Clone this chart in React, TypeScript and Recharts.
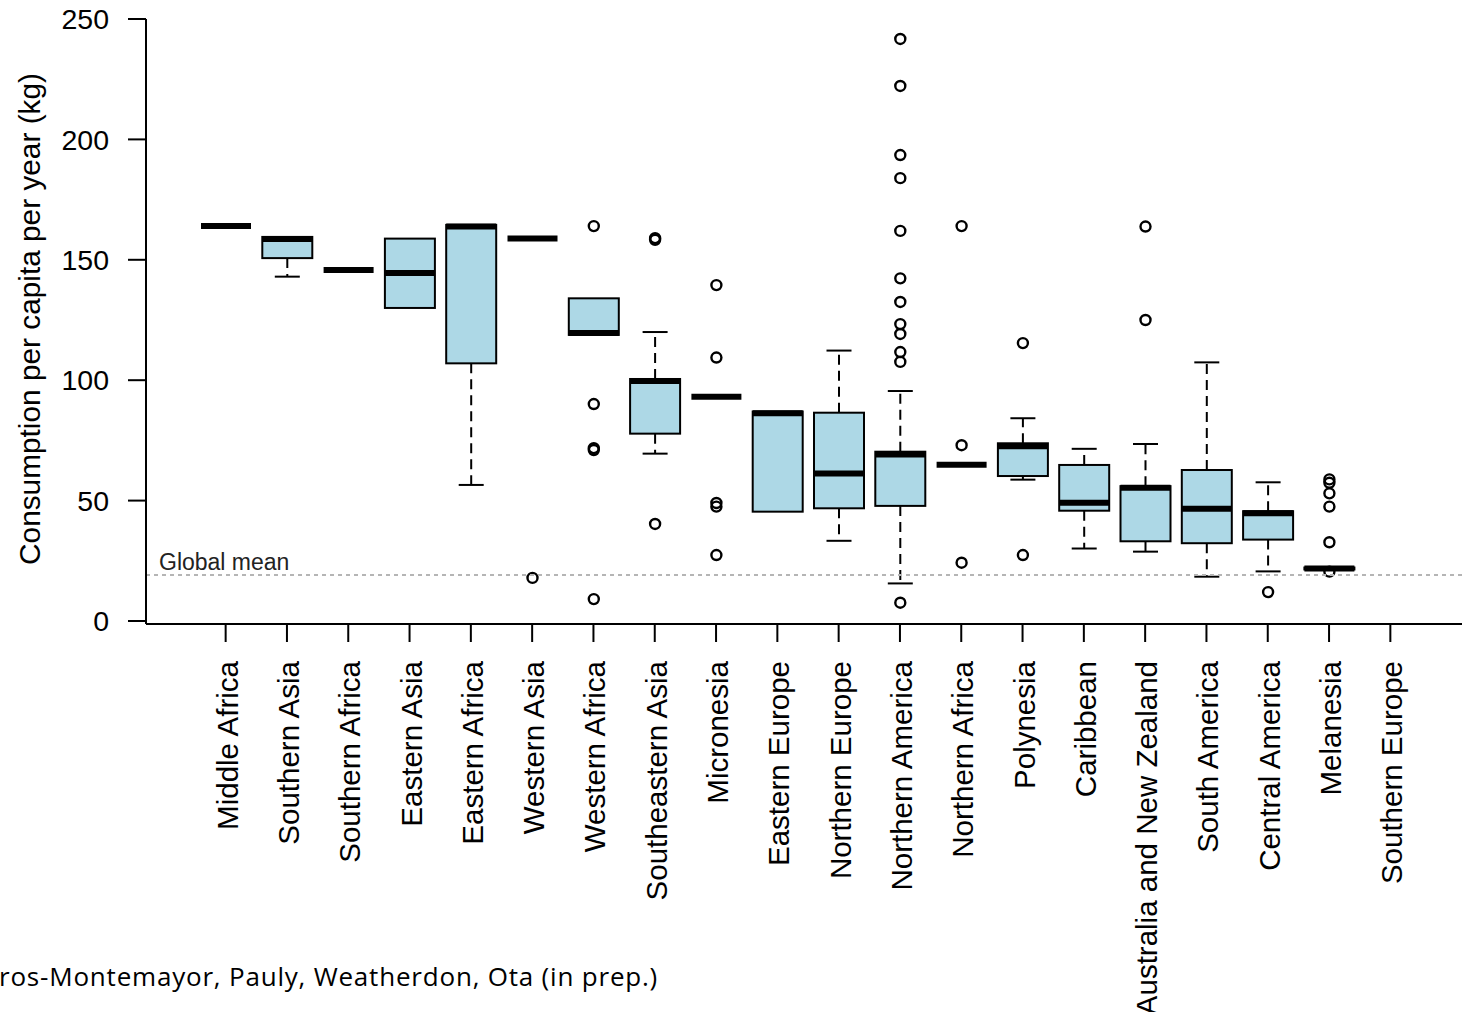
import { ComposedChart, Bar, XAxis, YAxis, ReferenceLine } from 'recharts'

// regions in the order they appear along the x axis
const regions = [
  'Middle Africa',
  'Southern Asia',
  'Southern Africa',
  'Eastern Asia',
  'Eastern Africa',
  'Western Asia',
  'Western Africa',
  'Southeastern Asia',
  'Micronesia',
  'Eastern Europe',
  'Northern Europe',
  'Northern America',
  'Northern Africa',
  'Polynesia',
  'Caribbean',
  'Australia and New Zealand',
  'South America',
  'Central America',
  'Melanesia',
  'Southern Europe',
]

// box statistics (kg per capita per year), null = no data
const whiskerLow = [164, 143, 145.8, 130, 56.5, 158.8, 118.8, 69.5, 93.1, 45.4, 33.3, 15.6, 64.9, 58.7, 30.1, 28.8, 18.4, 20.6, 21.4, null]
const q1 = [164, 150.7, 145.8, 130, 107, 158.8, 118.8, 77.8, 93.1, 45.4, 46.8, 47.8, 64.9, 60.2, 45.8, 33.1, 32.3, 33.8, 21.4, null]
const median = [164, 158.6, 145.8, 144.5, 163.8, 158.8, 119.6, 99.7, 93.1, 86.3, 61.2, 69.1, 64.9, 72.6, 49.1, 55.3, 46.6, 44.7, 21.8, null]
const q3 = [164, 159.5, 145.8, 158.8, 164.5, 158.8, 134, 100.5, 93.1, 87, 86.5, 70.3, 64.9, 73.8, 64.8, 56, 62.7, 45.6, 22.2, null]
const whiskerHigh = [164, 159.5, 145.8, 158.8, 164.5, 158.8, 134, 120, 93.1, 87, 112.3, 95.5, 64.9, 84.2, 71.5, 73.5, 107.4, 57.6, 22.2, null]
const outliers: number[][] = [
  [],
  [],
  [],
  [],
  [],
  [17.9],
  [164, 90.1, 71.8, 71.0, 9.1],
  [159.0, 158.3, 40.3],
  [139.5, 109.4, 49.0, 47.5, 27.4],
  [],
  [],
  [241.7, 222.2, 193.5, 183.9, 162, 142.3, 132.5, 123.3, 119.2, 111.7, 107.6, 7.6],
  [164, 73, 24.2],
  [115.4, 27.4],
  [],
  [163.8, 125],
  [],
  [12],
  [58.8, 57.4, 53, 47.5, 32.7, 20.5],
  [],
]

const yTicks = [0, 50, 100, 150, 200, 250]
const GLOBAL_MEAN = 19.1

const data = regions.map((name, i) => ({
  name,
  wLow: whiskerLow[i],
  q1: q1[i],
  med: median[i],
  q3: q3[i],
  wHigh: whiskerHigh[i],
  out: outliers[i],
  // tallest value in the group, used only to recover the y scale inside the shape
  top: whiskerHigh[i] == null ? null : Math.max(whiskerHigh[i] as number, ...outliers[i]),
}))

const FONT = '"Liberation Sans", Arial, Helvetica, sans-serif'

function BoxShape(props: any) {
  const { x, y, width, height, payload } = props
  if (!payload || payload.med == null || !height) return null
  const base = y + height
  const toY = (v: number) => base - (v * height) / payload.top
  const cx = x + width / 2
  const cap = width / 4
  const { wLow, q1: lo, med, q3: hi, wHigh, out } = payload
  return (
    <g>
      {wHigh > hi && (
        <g stroke="#000" strokeWidth={2}>
          <line x1={cx} x2={cx} y1={toY(hi)} y2={toY(wHigh)} strokeDasharray="10 6" />
          <line x1={cx - cap} x2={cx + cap} y1={toY(wHigh)} y2={toY(wHigh)} />
        </g>
      )}
      {wLow < lo && (
        <g stroke="#000" strokeWidth={2}>
          <line x1={cx} x2={cx} y1={toY(lo)} y2={toY(wLow)} strokeDasharray="10 6" />
          <line x1={cx - cap} x2={cx + cap} y1={toY(wLow)} y2={toY(wLow)} />
        </g>
      )}
      {hi > lo && (
        <rect
          x={x}
          y={toY(hi)}
          width={width}
          height={toY(lo) - toY(hi)}
          fill="#add8e6"
          stroke="#000"
          strokeWidth={2}
        />
      )}
      <line x1={x} x2={x + width} y1={toY(med)} y2={toY(med)} stroke="#000" strokeWidth={6} />
      {out.map((v: number, k: number) => (
        <circle key={k} cx={cx} cy={toY(v)} r={5} fill="none" stroke="#000" strokeWidth={2.4} />
      ))}
    </g>
  )
}

function RegionTick(props: any) {
  const { x, y, payload } = props
  return (
    <g transform={`translate(${x},${y})`}>
      <text
        transform="rotate(-90)"
        textAnchor="end"
        dy={12}
        fontSize={29.5}
        fontFamily={FONT}
        fill="#000"
      >
        {payload.value}
      </text>
    </g>
  )
}

export default function App() {
  return (
    <div style={{ position: 'absolute', left: 0, top: 0, width: 1462, height: 1012, overflow: 'hidden', background: '#fff' }}>
      <ComposedChart
        width={1462}
        height={1012}
        data={data}
        margin={{ top: 19, right: 0, left: 0, bottom: 0 }}
      >
        <XAxis
          dataKey="name"
          interval={0}
          height={388}
          padding={{ left: 49, right: 41 }}
          tickSize={18}
          tickMargin={19}
          axisLine={{ stroke: '#000', strokeWidth: 2 }}
          tickLine={{ stroke: '#000', strokeWidth: 2 }}
          tick={<RegionTick />}
        />
        <YAxis
          width={146}
          domain={[-1.25, 250]}
          ticks={yTicks}
          tickSize={18}
          tickMargin={19}
          axisLine={{ stroke: '#000', strokeWidth: 2 }}
          tickLine={{ stroke: '#000', strokeWidth: 2 }}
          tick={{ fontSize: 28.5, fontFamily: FONT, fill: '#000' }}
          label={{
            content: () => (
              <text
                transform="translate(40,319) rotate(-90)"
                textAnchor="middle"
                fontSize={29.8}
                fontFamily={FONT}
                fill="#000"
              >
                Consumption per capita per year (kg)
              </text>
            ),
          }}
        />
        <ReferenceLine
          y={GLOBAL_MEAN}
          stroke="#b5b5b5"
          strokeWidth={2}
          strokeDasharray="4 4"
          label={{
            content: (p: any) => (
              <text
                x={p.viewBox.x + 13}
                y={p.viewBox.y - 5}
                fontSize={23}
                fontFamily={FONT}
                fill="#222"
              >
                Global mean
              </text>
            ),
          }}
        />
        <Bar dataKey="top" barSize={50} fill="none" shape={<BoxShape />} isAnimationActive={false} />
      </ComposedChart>
      <div
        style={{
          position: 'absolute',
          left: -1,
          top: 958,
          fontFamily: '"Open Sans", "Noto Sans", sans-serif',
          fontSize: 26,
          letterSpacing: 0.8,
          lineHeight: 'normal',
          color: '#000',
          whiteSpace: 'nowrap',
        }}
      >
        ros-Montemayor, Pauly, Weatherdon, Ota (in prep.)
      </div>
    </div>
  )
}
